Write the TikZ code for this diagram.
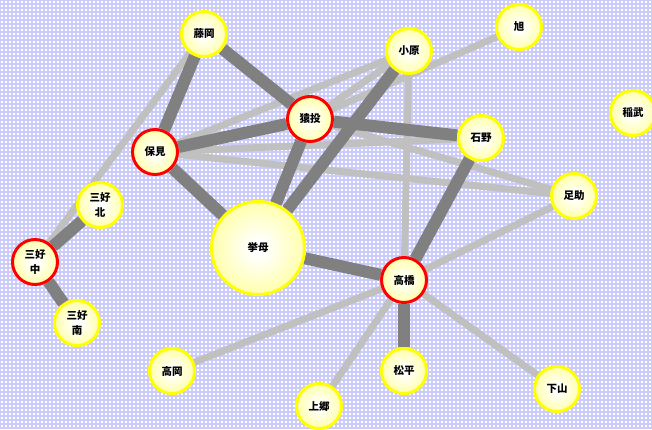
\documentclass[tikz,border=0pt]{standalone}
\usepackage{fontspec}
\newfontfamily\cjk{Noto Sans CJK JP}
\usetikzlibrary{backgrounds}

\definecolor{lav}{RGB}{204,204,250}
\definecolor{linkdark}{RGB}{128,128,128}
\definecolor{linklight}{RGB}{192,192,192}
\definecolor{glow}{RGB}{255,255,128}
\definecolor{rimyellow}{RGB}{255,255,0}
\definecolor{rimred}{RGB}{255,0,0}

\pgfdeclareradialshading{nodeglow}{\pgfpoint{0bp}{0bp}}{%
  color(0bp)=(white); color(4bp)=(white); color(36bp)=(glow); color(100bp)=(glow)}

\tikzset{
  town/.style={circle, shading=nodeglow, draw=rimyellow, line width=3pt,
    minimum size=45pt, inner sep=0pt, align=center,
    font=\cjk\bfseries\fontsize{10.5}{15}\selectfont, text=black},
  hub/.style={town, draw=rimred},
  bigtown/.style={town, minimum size=93pt},
  strong/.style={draw=linkdark, line width=12pt},
  weak/.style={draw=linklight, line width=7pt},
}

\begin{document}
\begin{tikzpicture}[x=1pt, y=-1pt]
  \useasboundingbox (0,0) rectangle (652,429);

  % districts
  \node[town]    (fuj) at (204,34)  {藤岡};
  \node[hub]     (sna) at (310,119) {猿投};
  \node[hub]     (hom) at (155,152) {保見};
  \node[town]    (oha) at (409,51)  {小原};
  \node[town]    (asa) at (519,27)  {旭};
  \node[town]    (ina) at (633,113) {稲武};
  \node[town]    (ish) at (481,138) {石野};
  \node[town]    (asu) at (574,196) {足助};
  \node[bigtown] (kor) at (258,248) {挙母};
  \node[hub]     (tak) at (404,280) {高橋};
  \node[town]    (mkt) at (100,205) {三好\\北};
  \node[hub]     (mnk) at (35,262)  {三好\\中};
  \node[town]    (mmn) at (77,323)  {三好\\南};
  \node[town]    (tko) at (172,371) {高岡};
  \node[town]    (kmg) at (319,406) {上郷};
  \node[town]    (mat) at (404,371) {松平};
  \node[town]    (shm) at (557,389) {下山};

  \begin{scope}[on background layer]
    % lattice backdrop
    \fill[white] (0,0) rectangle (652,429);
    \draw[lav, line width=1.5pt, step=4pt] (0,0) grid (652,429);
    % weaker links
    \draw[weak] (fuj) -- (mnk);
    \draw[weak] (hom) -- (oha);
    \draw[weak] (hom) -- (ish);
    \draw[weak] (hom) -- (asu);
    \draw[weak] (sna) -- (oha);
    \draw[weak] (sna) -- (asa);
    \draw[weak] (sna) -- (asu);
    \draw[weak] (oha) -- (tak);
    \draw[weak] (tak) -- (asu);
    \draw[weak] (tak) -- (tko);
    \draw[weak] (tak) -- (kmg);
    \draw[weak] (tak) -- (shm);
    % stronger links
    \draw[strong] (fuj) -- (hom);
    \draw[strong] (fuj) -- (sna);
    \draw[strong] (hom) -- (sna);
    \draw[strong] (hom) -- (kor);
    \draw[strong] (sna) -- (kor);
    \draw[strong] (oha) -- (kor);
    \draw[strong] (sna) -- (ish);
    \draw[strong] (ish) -- (tak);
    \draw[strong] (kor) -- (tak);
    \draw[strong] (tak) -- (mat);
    \draw[strong] (mnk) -- (mkt);
    \draw[strong] (mnk) -- (mmn);
  \end{scope}
\end{tikzpicture}
\end{document}
